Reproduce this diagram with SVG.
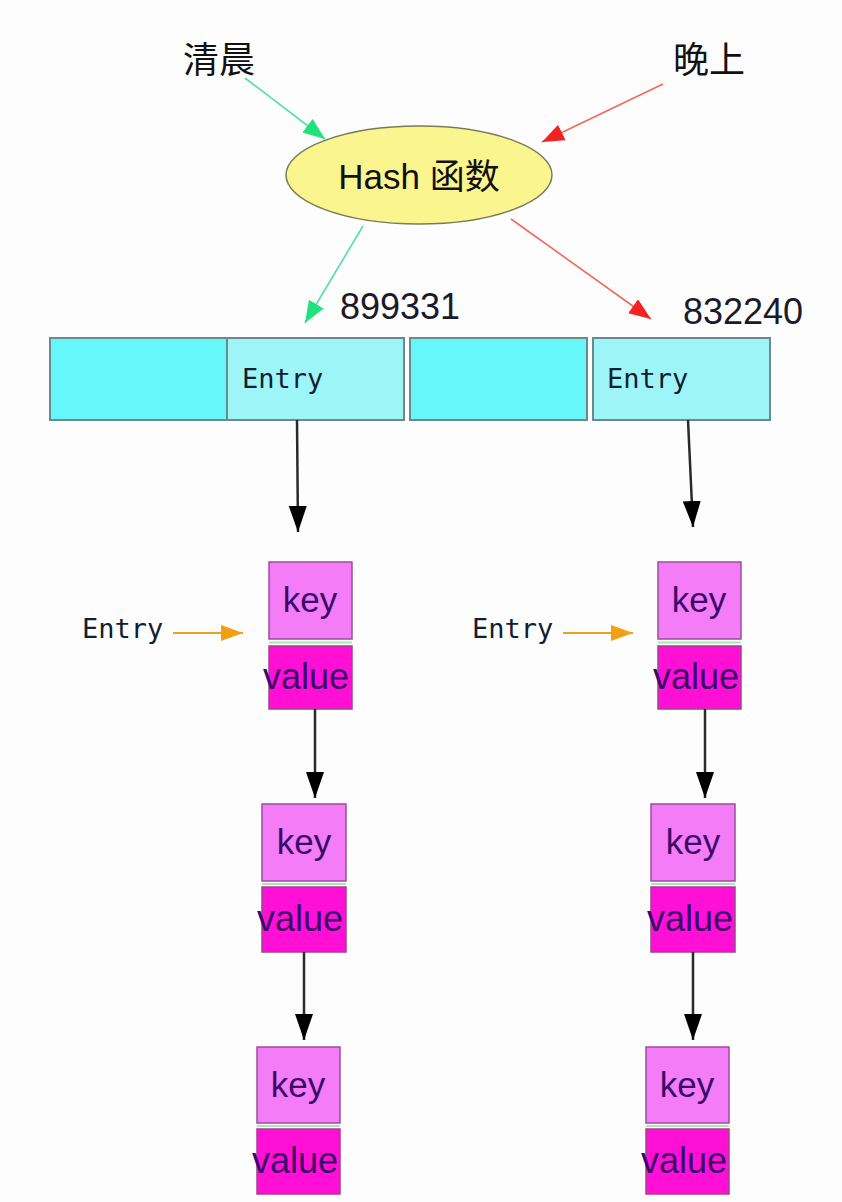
<svg xmlns="http://www.w3.org/2000/svg" width="842" height="1202" viewBox="0 0 842 1202">
<defs>
<style>
.bg{fill:#fdfdfe}
.cjk{font-family:"Liberation Sans","Noto Sans CJK SC",sans-serif;fill:#111}
.num{font-family:"Liberation Sans",Arial,sans-serif;font-size:36px;fill:#1a1a2a}
.mono{font-family:"DejaVu Sans Mono","Liberation Mono",monospace;font-size:27px;fill:#102030}
.cellA{fill:#66f7fb;stroke:#6b8a8c;stroke-width:2}
.cellB{fill:#9ef5f8;stroke:#6b8a8c;stroke-width:2}
.key{fill:#f47cf6;stroke:#9a4d9c;stroke-width:1.5}
.val{fill:#ff10d4;stroke:#a04090;stroke-width:1.5}
.kv{font-family:"Liberation Sans",Arial,sans-serif;font-size:35px;fill:#3a0a6a;text-anchor:middle}
.kvv{font-family:"Liberation Sans",Arial,sans-serif;font-size:36px;fill:#3a0a6a;text-anchor:middle}
.gap{stroke:#a8e8b0;stroke-width:2}
.blk{stroke:#2a2a2a;stroke-width:2.5;fill:none}
.grn{stroke:#50e0b0;stroke-width:1.6;fill:none}
.red{stroke:#f06a5a;stroke-width:1.6;fill:none}
.org{stroke:#f0a020;stroke-width:2;fill:none}
</style>
<marker id="mBlk" markerUnits="userSpaceOnUse" markerWidth="28" markerHeight="20" refX="26" refY="9" orient="auto"><path d="M0,0 L26,9 L0,18 z" fill="#000"/></marker>
<marker id="mGrn" markerUnits="userSpaceOnUse" markerWidth="26" markerHeight="20" refX="22" refY="8.5" orient="auto"><path d="M0,0 L22,8.5 L0,17 z" fill="#1ee27a"/></marker>
<marker id="mRed" markerUnits="userSpaceOnUse" markerWidth="26" markerHeight="20" refX="22" refY="8.5" orient="auto"><path d="M0,0 L22,8.5 L0,17 z" fill="#f52020"/></marker>
<marker id="mOrg" markerUnits="userSpaceOnUse" markerWidth="26" markerHeight="20" refX="22" refY="8" orient="auto"><path d="M0,0 L22,8 L0,16 z" fill="#f0a010"/></marker>
</defs>
<rect class="bg" x="0" y="0" width="842" height="1202"/>

<g id="label-morning"><text class="cjk" x="219" y="73" font-size="36" text-anchor="middle">清晨</text></g>
<g id="label-evening"><text class="cjk" x="709" y="73" font-size="36" text-anchor="middle">晚上</text></g>

<g id="hash">
<ellipse cx="419" cy="175" rx="133" ry="49" fill="#fbf590" stroke="#7a7a5a" stroke-width="1.5"/>
<text class="cjk" x="419" y="189" font-size="35" text-anchor="middle" fill="#1a1010">Hash 函数</text>
</g>

<g id="label-899331"><text class="num" x="340" y="319">899331</text></g>
<g id="label-832240"><text class="num" x="683" y="324">832240</text></g>

<g id="array">
<rect class="cellA" x="50" y="338" width="177" height="82"/>
<rect class="cellB" x="227" y="338" width="177" height="82"/>
<rect class="cellA" x="410" y="338" width="177" height="82"/>
<rect class="cellB" x="593" y="338" width="177" height="82"/>
<text class="mono" x="242" y="388">Entry</text>
<text class="mono" x="607" y="388">Entry</text>
</g>

<g id="entry-label-left"><text class="mono" x="82" y="638">Entry</text></g>
<g id="entry-label-right"><text class="mono" x="472" y="638">Entry</text></g>

<g id="node-L1">
<rect class="key" x="269" y="562" width="83" height="77"/>
<line class="gap" x1="269" y1="642.5" x2="352" y2="642.5"/>
<rect class="val" x="269" y="646" width="83" height="63"/>
<text class="kv" x="310" y="612">key</text>
<text class="kvv" x="306" y="689">value</text>
</g>
<g id="node-L2">
<rect class="key" x="262" y="804" width="84" height="77"/>
<line class="gap" x1="262" y1="884" x2="346" y2="884"/>
<rect class="val" x="262" y="887" width="84" height="65"/>
<text class="kv" x="304" y="854">key</text>
<text class="kvv" x="300" y="931">value</text>
</g>
<g id="node-L3">
<rect class="key" x="257" y="1047" width="83" height="76"/>
<line class="gap" x1="257" y1="1126" x2="340" y2="1126"/>
<rect class="val" x="257" y="1129" width="83" height="65"/>
<text class="kv" x="298" y="1097">key</text>
<text class="kvv" x="295" y="1173">value</text>
</g>
<g id="node-R1">
<rect class="key" x="658" y="562" width="83" height="77"/>
<line class="gap" x1="658" y1="642.5" x2="741" y2="642.5"/>
<rect class="val" x="658" y="646" width="83" height="63"/>
<text class="kv" x="699" y="612">key</text>
<text class="kvv" x="696" y="689">value</text>
</g>
<g id="node-R2">
<rect class="key" x="651" y="804" width="84" height="77"/>
<line class="gap" x1="651" y1="884" x2="735" y2="884"/>
<rect class="val" x="651" y="887" width="84" height="65"/>
<text class="kv" x="693" y="854">key</text>
<text class="kvv" x="690" y="931">value</text>
</g>
<g id="node-R3">
<rect class="key" x="646" y="1047" width="83" height="76"/>
<line class="gap" x1="646" y1="1126" x2="729" y2="1126"/>
<rect class="val" x="646" y="1129" width="83" height="65"/>
<text class="kv" x="687" y="1097">key</text>
<text class="kvv" x="684" y="1173">value</text>
</g>

<g id="connectors">
<line class="grn" x1="245" y1="78" x2="325" y2="139" marker-end="url(#mGrn)"/>
<line class="red" x1="663" y1="84" x2="542" y2="142" marker-end="url(#mRed)"/>
<line class="grn" x1="363" y1="226" x2="305" y2="323" marker-end="url(#mGrn)"/>
<line class="red" x1="511" y1="219" x2="651" y2="319" marker-end="url(#mRed)"/>
<line class="blk" x1="297" y1="420" x2="298" y2="532" marker-end="url(#mBlk)"/>
<line class="blk" x1="688" y1="420" x2="693" y2="527" marker-end="url(#mBlk)"/>
<line class="blk" x1="315" y1="709" x2="315" y2="798" marker-end="url(#mBlk)"/>
<line class="blk" x1="304" y1="952" x2="304" y2="1040" marker-end="url(#mBlk)"/>
<line class="blk" x1="705" y1="709" x2="705" y2="798" marker-end="url(#mBlk)"/>
<line class="blk" x1="693" y1="952" x2="693" y2="1040" marker-end="url(#mBlk)"/>
<line class="org" x1="173" y1="633" x2="243" y2="633" marker-end="url(#mOrg)"/>
<line class="org" x1="563" y1="633" x2="633" y2="633" marker-end="url(#mOrg)"/>
</g>
</svg>
